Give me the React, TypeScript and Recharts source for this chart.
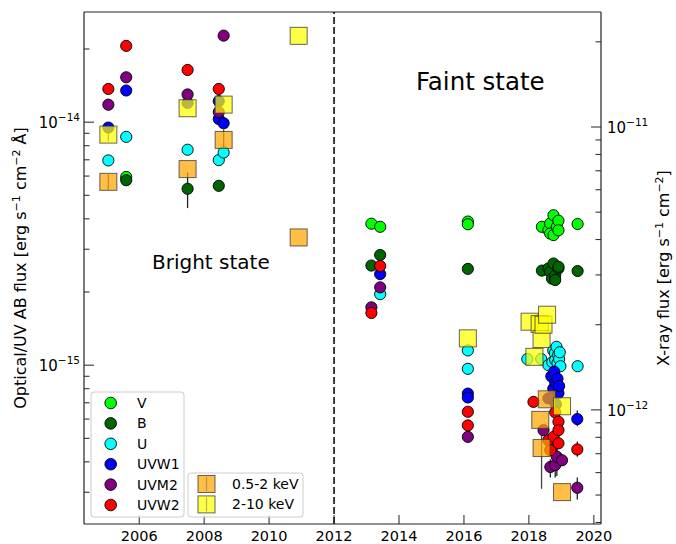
import React from 'react';
import { ScatterChart, Scatter, XAxis, YAxis, ReferenceLine, ErrorBar } from 'recharts';

// [year, flux] or [year, flux, low, high] (optical/UV in erg/s/cm2/A, X-ray in erg/s/cm2)
const vBand = [
  [2005.6, 5.95e-15],
  [2013.15, 3.82e-15], [2013.42, 3.71e-15],
  [2016.12, 3.9e-15], [2016.12, 3.8e-15],
  [2018.4, 3.71e-15], [2018.6, 3.59e-15], [2018.655, 3.83e-15], [2018.655, 3.48e-15],
  [2018.757, 4.14e-15], [2018.757, 3.43e-15], [2018.86, 3.71e-15], [2018.91, 3.93e-15],
  [2018.91, 3.59e-15], [2019.5, 3.81e-15],
];
const bBand = [
  [2005.6, 5.77e-15, 5.5e-15, 6.1e-15],
  [2007.49, 5.32e-15, 4.43e-15, 6.2e-15],
  [2008.45, 5.47e-15],
  [2013.15, 2.57e-15], [2013.42, 2.84e-15],
  [2016.12, 2.49e-15],
  [2018.4, 2.45e-15], [2018.6, 2.5e-15], [2018.655, 2.42e-15], [2018.71, 2.27e-15],
  [2018.757, 2.62e-15], [2018.81, 2.34e-15], [2018.81, 2.24e-15], [2018.91, 2.5e-15],
  [2018.91, 2.54e-15], [2019.5, 2.44e-15],
];
const uBand = [
  [2005.05, 6.96e-15], [2005.6, 8.7e-15, 8.3e-15, 9.1e-15], [2007.49, 7.7e-15],
  [2008.45, 6.98e-15], [2008.6, 7.5e-15],
  [2013.42, 1.96e-15],
  [2016.12, 1.15e-15], [2016.12, 9.66e-16],
  [2017.95, 1.06e-15], [2018.38, 1.06e-15], [2018.6, 1.0e-15], [2018.72, 1.03e-15],
  [2018.75, 1.15e-15], [2018.8, 1.12e-15], [2018.81, 1.05e-15], [2018.85, 1.19e-15],
  [2018.88, 1.02e-15], [2018.9, 1.1e-15], [2018.93, 1.06e-15], [2018.95, 1.13e-15],
  [2018.97, 9.9e-16], [2019.5, 9.9e-16],
];
const uvw1Band = [
  [2005.05, 9.5e-15], [2005.6, 1.35e-14], [2007.49, 1.2e-14], [2008.45, 1.22e-14],
  [2008.45, 1.03e-14], [2008.6, 9.9e-15],
  [2013.42, 2.37e-15],
  [2016.12, 7.64e-16], [2016.12, 7.36e-16],
  [2018.6, 7.3e-16], [2018.69, 9.0e-16], [2018.75, 8.0e-16], [2018.78, 9.4e-16],
  [2018.81, 8.5e-16], [2018.83, 6.9e-16], [2018.88, 8.8e-16], [2018.91, 7.67e-16],
  [2018.93, 8.2e-16], [2019.49, 6.0e-16, 5.6e-16, 6.5e-16],
];
const uvm2Band = [
  [2005.05, 1.18e-14], [2005.6, 1.53e-14], [2007.49, 1.3e-14], [2008.45, 1.1e-14],
  [2008.6, 2.27e-14],
  [2013.15, 1.73e-15], [2013.42, 2.09e-15],
  [2016.12, 5.07e-16, 4.8e-16, 5.4e-16],
  [2018.45, 5.4e-16], [2018.66, 3.81e-16, 3.45e-16, 4.1e-16], [2018.7, 4.47e-16],
  [2018.81, 3.88e-16, 3.45e-16, 4.2e-16], [2018.86, 4.2e-16, 3.5e-16, 4.5e-16],
  [2019.02, 4.06e-16], [2019.49, 3.13e-16, 2.8e-16, 3.45e-16],
];
const uvw2Band = [
  [2005.05, 1.37e-14], [2005.6, 2.06e-14], [2007.49, 1.64e-14], [2008.45, 1.37e-14],
  [2013.15, 1.64e-15], [2013.42, 2.56e-15],
  [2016.12, 6.43e-16], [2016.12, 5.65e-16],
  [2018.14, 7.06e-16], [2018.6, 4.91e-16], [2018.66, 4.47e-16], [2018.76, 5.07e-16],
  [2018.81, 6.4e-16], [2018.91, 5.85e-16], [2018.91, 5.4e-16], [2018.91, 4.77e-16],
  [2019.49, 4.5e-16, 4.2e-16, 4.85e-16],
];
const softX = [
  [2005.05, 6.4e-12, 6.0e-12, 6.8e-12], [2007.49, 7.1e-12], [2008.6, 9.0e-12, 8.3e-12, 9.8e-12],
  [2010.91, 4.07e-12],
  [2018.35, 9.22e-13], [2018.39, 7.33e-13, 5.26e-13, 8.5e-13], [2018.55, 1.09e-12],
  [2019.02, 5.12e-13],
];
const hardX = [
  [2005.05, 9.4e-12, 8.9e-12, 9.9e-12], [2007.49, 1.165e-11], [2008.6, 1.2e-11], [2010.91, 2.1e-11],
  [2016.12, 1.79e-12],
  [2018.02, 2.05e-12], [2018.17, 1.54e-12], [2018.33, 2.01e-12], [2018.39, 1.78e-12],
  [2018.45, 2.0e-12], [2018.56, 2.17e-12], [2019.02, 1.03e-12],
];

const yearTicks = [2006, 2008, 2010, 2012, 2014, 2016, 2018, 2020];
const optTicks = [
  3e-16, 4e-16, 5e-16, 6e-16, 7e-16, 8e-16, 9e-16, 1e-15,
  2e-15, 3e-15, 4e-15, 5e-15, 6e-15, 7e-15, 8e-15, 9e-15, 1e-14, 2e-14,
];
const xrayTicks = [
  4e-13, 5e-13, 6e-13, 7e-13, 8e-13, 9e-13, 1e-12,
  2e-12, 3e-12, 4e-12, 5e-12, 6e-12, 7e-12, 8e-12, 9e-12, 1e-11, 2e-11,
];
const yearDomain = [2004.3, 2020.22];
const optDomain = [2.22e-16, 2.84e-14];
const xrayDomain = [3.95e-13, 2.55e-11];

const opticalSeries = [
  { name: 'V', data: vBand, color: '#00ff00' },
  { name: 'B', data: bBand, color: '#006400' },
  { name: 'U', data: uBand, color: '#00ffff' },
  { name: 'UVW1', data: uvw1Band, color: '#0000ff' },
  { name: 'UVM2', data: uvm2Band, color: '#800080' },
  { name: 'UVW2', data: uvw2Band, color: '#ff0000' },
];
const xraySeries = [
  { name: '0.5-2 keV', data: softX, color: '#ffa500' },
  { name: '2-10 keV', data: hardX, color: '#ffff00' },
];

const FONT = 'DejaVu Sans';

const toPoints = (rows: number[][]) =>
  rows.map(([x, y, lo, hi]) => ({
    x,
    y,
    err: lo !== undefined ? [y - lo, hi - y] : [0, 0],
  }));

const isMajor = (v: number) => {
  const l = Math.log10(v);
  return Math.abs(l - Math.round(l)) < 1e-6;
};

const LeftTick = (props: any) => {
  const { x, y, payload } = props;
  const v = payload.value;
  const major = isMajor(v);
  return (
    <g>
      <line x1={x} x2={x + (major ? 10 : 5.5)} y1={y} y2={y} stroke="#222" strokeWidth={1} />
      {major && (
        <text x={x - 4} y={y + 6} textAnchor="end" fontFamily={FONT} fontSize={15} fill="#000">
          10<tspan dy={-7} fontSize={10.5}>−{Math.abs(Math.round(Math.log10(v)))}</tspan>
        </text>
      )}
    </g>
  );
};

const RightTick = (props: any) => {
  const { x, y, payload } = props;
  const v = payload.value;
  const major = isMajor(v);
  return (
    <g>
      <line x1={x} x2={x - (major ? 10 : 5.5)} y1={y} y2={y} stroke="#222" strokeWidth={1} />
      {major && (
        <text x={x + 6} y={y + 6} textAnchor="start" fontFamily={FONT} fontSize={15} fill="#000">
          10<tspan dy={-7} fontSize={10.5}>−{Math.abs(Math.round(Math.log10(v)))}</tspan>
        </text>
      )}
    </g>
  );
};

const BottomTick = (props: any) => {
  const { x, y, payload } = props;
  return (
    <g>
      <line x1={x} x2={x} y1={y} y2={y - 9} stroke="#222" strokeWidth={1} />
      <text x={x} y={y + 16.5} textAnchor="middle" fontFamily={FONT} fontSize={14.5} fill="#000">
        {payload.value}
      </text>
    </g>
  );
};

const circleShape = (color: string) => (p: any) => (
  <circle cx={p.cx} cy={p.cy} r={5.6} fill={color} stroke="#000" strokeWidth={0.9} />
);

const squareShape = (color: string) => (p: any) => (
  <rect
    x={p.cx - 8.5}
    y={p.cy - 8.5}
    width={17}
    height={17}
    fill={color}
    fillOpacity={0.72}
    stroke="#333"
    strokeOpacity={0.75}
    strokeWidth={1}
  />
);

export default function App() {
  return (
    <div style={{ position: 'absolute', left: 0, top: 0, width: 676, height: 544, background: '#fff' }}>
      <ScatterChart width={676} height={544} margin={{ top: 12, right: 0, bottom: 0, left: 0 }}>
        <XAxis
          xAxisId="t"
          type="number"
          dataKey="x"
          domain={yearDomain}
          allowDataOverflow
          ticks={yearTicks}
          interval={0}
          height={20}
          tickSize={0}
          tickMargin={0}
          tickLine={false}
          tick={<BottomTick />}
          axisLine={{ stroke: '#222', strokeWidth: 1.2 }}
        />
        <YAxis
          yAxisId="opt"
          orientation="left"
          type="number"
          dataKey="y"
          scale="log"
          domain={optDomain}
          allowDataOverflow
          ticks={optTicks}
          interval={0}
          width={84}
          tickSize={0}
          tickMargin={0}
          tickLine={false}
          tick={<LeftTick />}
          axisLine={{ stroke: '#222', strokeWidth: 1.2 }}
        />
        <YAxis
          yAxisId="xr"
          orientation="right"
          type="number"
          dataKey="y"
          scale="log"
          domain={xrayDomain}
          allowDataOverflow
          ticks={xrayTicks}
          interval={0}
          width={75}
          tickSize={0}
          tickMargin={0}
          tickLine={false}
          tick={<RightTick />}
          axisLine={{ stroke: '#222', strokeWidth: 1.2 }}
        />
        <ReferenceLine xAxisId="t" yAxisId="opt" y={optDomain[1]} stroke="#222" strokeWidth={1.2} />
        <ReferenceLine
          xAxisId="t"
          yAxisId="opt"
          x={2012}
          stroke="#000"
          strokeWidth={1.5}
          strokeDasharray="7 3"
        />
        {opticalSeries.map((s) => (
          <Scatter
            key={s.name}
            name={s.name}
            xAxisId="t"
            yAxisId="opt"
            data={toPoints(s.data)}
            shape={circleShape(s.color)}
            isAnimationActive={false}
          >
            <ErrorBar dataKey="err" direction="y" width={0} stroke="#222" strokeWidth={1.3} />
          </Scatter>
        ))}
        {xraySeries.map((s) => (
          <Scatter
            key={s.name}
            name={s.name}
            xAxisId="t"
            yAxisId="xr"
            data={toPoints(s.data)}
            shape={squareShape(s.color)}
            isAnimationActive={false}
          >
            <ErrorBar dataKey="err" direction="y" width={0} stroke="#444" strokeWidth={1.3} />
          </Scatter>
        ))}
      </ScatterChart>

      <svg
        width={676}
        height={544}
        style={{ position: 'absolute', left: 0, top: 0, pointerEvents: 'none' }}
        fontFamily={FONT}
      >
        <text transform="translate(26,268) rotate(-90)" textAnchor="middle" fontSize={16}>
          Optical/UV AB flux [erg s<tspan dy={-6} fontSize={11}>−1</tspan>
          <tspan dy={6}> cm</tspan>
          <tspan dy={-6} fontSize={11}>−2</tspan>
          <tspan dy={6}> Å]</tspan>
        </text>
        <text transform="translate(669,268) rotate(-90)" textAnchor="middle" fontSize={16}>
          X-ray flux [erg s<tspan dy={-6} fontSize={11}>−1</tspan>
          <tspan dy={6}> cm</tspan>
          <tspan dy={-6} fontSize={11}>−2</tspan>
          <tspan dy={6}>]</tspan>
        </text>

        <text x={152} y={269} fontSize={20}>Bright state</text>
        <text x={416} y={90} fontSize={24.5}>Faint state</text>

        <rect x={91} y={392} width={93} height={125} rx={3} fill="#fff" fillOpacity={0.8} stroke="#cccccc" />
        {opticalSeries.map((s, i) => (
          <g key={s.name}>
            <circle cx={110.7} cy={403 + i * 20.4} r={5.8} fill={s.color} stroke="#000" strokeWidth={0.9} />
            <text x={137} y={408 + i * 20.4} fontSize={14}>{s.name}</text>
          </g>
        ))}
        <rect x={188} y={473} width={115} height={44} rx={3} fill="#fff" fillOpacity={0.8} stroke="#cccccc" />
        {xraySeries.map((s, i) => (
          <g key={s.name}>
            <rect
              x={198}
              y={475.5 + i * 20.4}
              width={17}
              height={17}
              fill={s.color}
              fillOpacity={0.72}
              stroke="#333"
              strokeOpacity={0.75}
            />
            <line x1={206.5} x2={206.5} y1={477 + i * 20.4} y2={491 + i * 20.4} stroke="#555" strokeOpacity={0.4} strokeWidth={1.3} />
            <text x={232} y={489 + i * 20.4} fontSize={14}>{s.name}</text>
          </g>
        ))}
      </svg>
    </div>
  );
}
